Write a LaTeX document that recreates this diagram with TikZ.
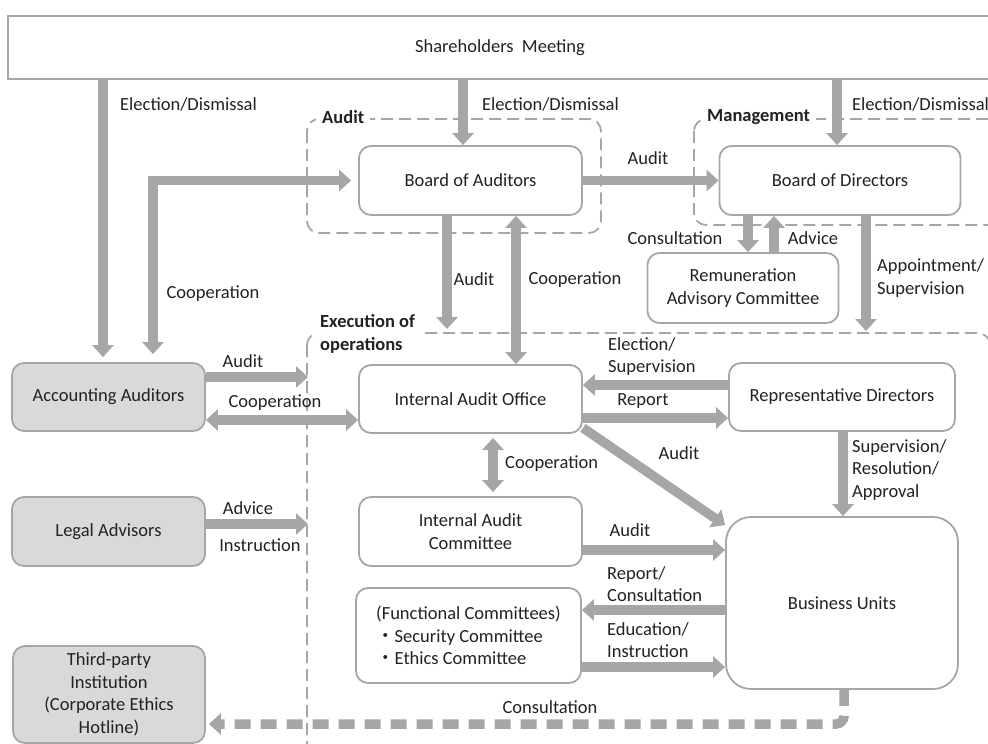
\documentclass[tikz,border=0pt]{standalone}
\usepackage{fontspec}
\setmainfont{Carlito}
\newfontfamily\cjk{Noto Sans CJK JP}
\usetikzlibrary{arrows.meta}
\newcommand\chartfont{\fontsize{18.5}{22.5}\selectfont}
\definecolor{edgegray}{HTML}{A6A6A6}
\definecolor{fillgray}{HTML}{D9D9D9}
\definecolor{ink}{HTML}{222222}
\tikzstyle{unitbox}=[draw=edgegray, line width=1.8pt, rounded corners=12pt, fill=white, text=ink, align=center, inner sep=0pt]
\tikzstyle{extbox}=[unitbox, fill=fillgray]
\tikzstyle{areabox}=[draw=edgegray, line width=1.8pt, dash pattern=on 12pt off 6pt, rounded corners=12pt]
\tikzstyle{areaname}=[text=ink, font=\chartfont\bfseries, align=left, fill=white, inner xsep=6pt, inner ysep=2pt, anchor=west]
\tikzstyle{flow}=[draw=edgegray, line width=9.5pt, -{Triangle[width=21pt,length=12pt]}]
\tikzstyle{mutual}=[flow, {Triangle[width=21pt,length=12pt]}-{Triangle[width=21pt,length=12pt]}]
\tikzstyle{word}=[text=ink, inner sep=0pt, align=left]

\begin{document}
\begin{tikzpicture}[x=1pt, y=-1pt, font=\chartfont]
\useasboundingbox (0,0) rectangle (988,744);
\clip (0,0) rectangle (988,744);

% boxes
\node[unitbox, sharp corners, minimum width=984pt, minimum height=63pt] (sm) at (500,47.5) {Shareholders\ \ Meeting};
\node[unitbox, minimum width=223pt, minimum height=69pt] (boa) at (470.5,180.5) {Board of Auditors};
\node[unitbox, minimum width=241pt, minimum height=69pt] (bod) at (840,180.5) {Board of Directors};
\node[unitbox, minimum width=191pt, minimum height=70pt] (rac) at (743,288) {Remuneration\\Advisory Committee};
\node[extbox, minimum width=193pt, minimum height=68pt] (aa) at (108.5,397) {Accounting Auditors};
\node[unitbox, minimum width=223pt, minimum height=68pt] (iao) at (470.5,399) {Internal Audit Office};
\node[unitbox, minimum width=226pt, minimum height=68pt] (rd) at (842,397) {Representative Directors};
\node[unitbox, minimum width=223pt, minimum height=69pt] (iac) at (470.5,531.5) {Internal Audit\\Committee};
\node[unitbox, rounded corners=25pt, minimum width=232pt, minimum height=172pt] (bu) at (842,603) {Business Units};
\node[unitbox, align=left, minimum width=225pt, minimum height=95pt] (fc) at (468.5,635.5) {(Functional Committees)\\{\cjk ・}Security Committee\\{\cjk ・}Ethics Committee};
\node[extbox, minimum width=193pt, minimum height=69pt] (la) at (108.5,531.5) {Legal Advisors};
\node[extbox, minimum width=192pt, minimum height=97pt] (tpi) at (109,694.5) {Third-party\\Institution\\(Corporate Ethics\\Hotline)};

% free ends at the areas
\coordinate (auditstop) at (447,329);
\coordinate (appointstop) at (866,331);
\coordinate (aastop) at (308,377);
\coordinate (lastop) at (308,524);

% arrows
\draw[flow, shorten >=5pt] (sm.south -| 103,0) -- (aa.north -| 103,0);
\draw[flow] (sm.south -| 463,0) -- (boa.north -| 463,0);
\draw[flow] (sm.south -| 837,0) -- (bod.north -| 837,0);
\draw[mutual, shorten <=8pt, shorten >=7pt] (aa.north -| 153,0) |- (boa.west);
\draw[flow] (boa.east) -- (bod.west);
\draw[flow] (boa.south -| 447,0) -- (auditstop);
\draw[mutual] (boa.south -| 516,0) -- (iao.north -| 516,0);
\draw[flow] (bod.south -| 748,0) -- (rac.north -| 748,0);
\draw[flow] (rac.north -| 774,0) -- (bod.south -| 774,0);
\draw[flow] (bod.south -| 866,0) -- (appointstop);
\draw[flow] (aa.east |- 0,377) -- (aastop);
\draw[mutual] (aa.east |- 0,420) -- (iao.west |- 0,420);
\draw[flow] (rd.west |- 0,385) -- (iao.east |- 0,385);
\draw[flow] (iao.east |- 0,418) -- (rd.west |- 0,418);
\draw[flow] ([yshift=6pt]iao.south east) -- ([yshift=-9pt]bu.north west);
\draw[flow] (rd.south -| 843,0) -- (bu.north -| 843,0);
\draw[mutual, shorten <=4pt, shorten >=4pt] (iao.south -| 493,0) -- (iac.north -| 493,0);
\draw[flow] (iac.east |- 0,550) -- (bu.west |- 0,550);
\draw[flow] (bu.west |- 0,610) -- (fc.east |- 0,610);
\draw[flow] (fc.east |- 0,667) -- (bu.west |- 0,667);
\draw[flow] (la.east |- 0,524) -- (lastop);
\draw[flow, dash pattern=on 16pt off 10pt, rounded corners=8pt, shorten >=3pt] (bu.south -| 844,0) |- (tpi.east |- 0,724);

% dashed areas
\draw[areabox] (307,119) rectangle (601,233);
\draw[areabox] (694,119) rectangle (1010,225);
\draw[areabox] (307,333) rectangle (990,800);
\node[areaname] (auditarea) at (316,117) {Audit};
\node[areaname] (mgmtarea) at (701,117) {Management};
\node[areaname] (execarea) at (314,334) {Execution of\\operations};

% labels
\node[word, anchor=west] (elect1) at (120,104) {Election/Dismissal};
\node[word, anchor=west] (elect2) at (482,104) {Election/Dismissal};
\node[word, anchor=west] (elect3) at (852,104) {Election/Dismissal};
\node[word] (audit1) at (648,158) {Audit};
\node[word] (coop1) at (213,294) {Cooperation};
\node[word] (audit2) at (474,279) {Audit};
\node[word] (coop2) at (575,280) {Cooperation};
\node[word] (consult1) at (675,238) {Consultation};
\node[word] (advice1) at (813,238) {Advice};
\node[word, anchor=west] (appoint) at (877,278) {Appointment/\\Supervision};
\node[word] (audit3) at (243,361) {Audit};
\node[word] (coop3) at (275,403) {Cooperation};
\node[word, anchor=west] (elect4) at (608,356.5) {Election/\\Supervision};
\node[word] (report1) at (643,401) {Report};
\node[word] (audit4) at (679,453) {Audit};
\node[word, anchor=west] (superv) at (852,470) {Supervision/\\Resolution/\\Approval};
\node[word, anchor=west] (coop4) at (505,464) {Cooperation};
\node[word] (audit5) at (630,530) {Audit};
\node[word, anchor=west] (report2) at (607,584) {Report/\\Consultation};
\node[word, anchor=west] (educ) at (607,640) {Education/\\Instruction};
\node[word] (advice2) at (248,508) {Advice};
\node[word] (instr) at (260,545) {Instruction};
\node[word] (consult2) at (550,707) {Consultation};
\end{tikzpicture}
\end{document}
